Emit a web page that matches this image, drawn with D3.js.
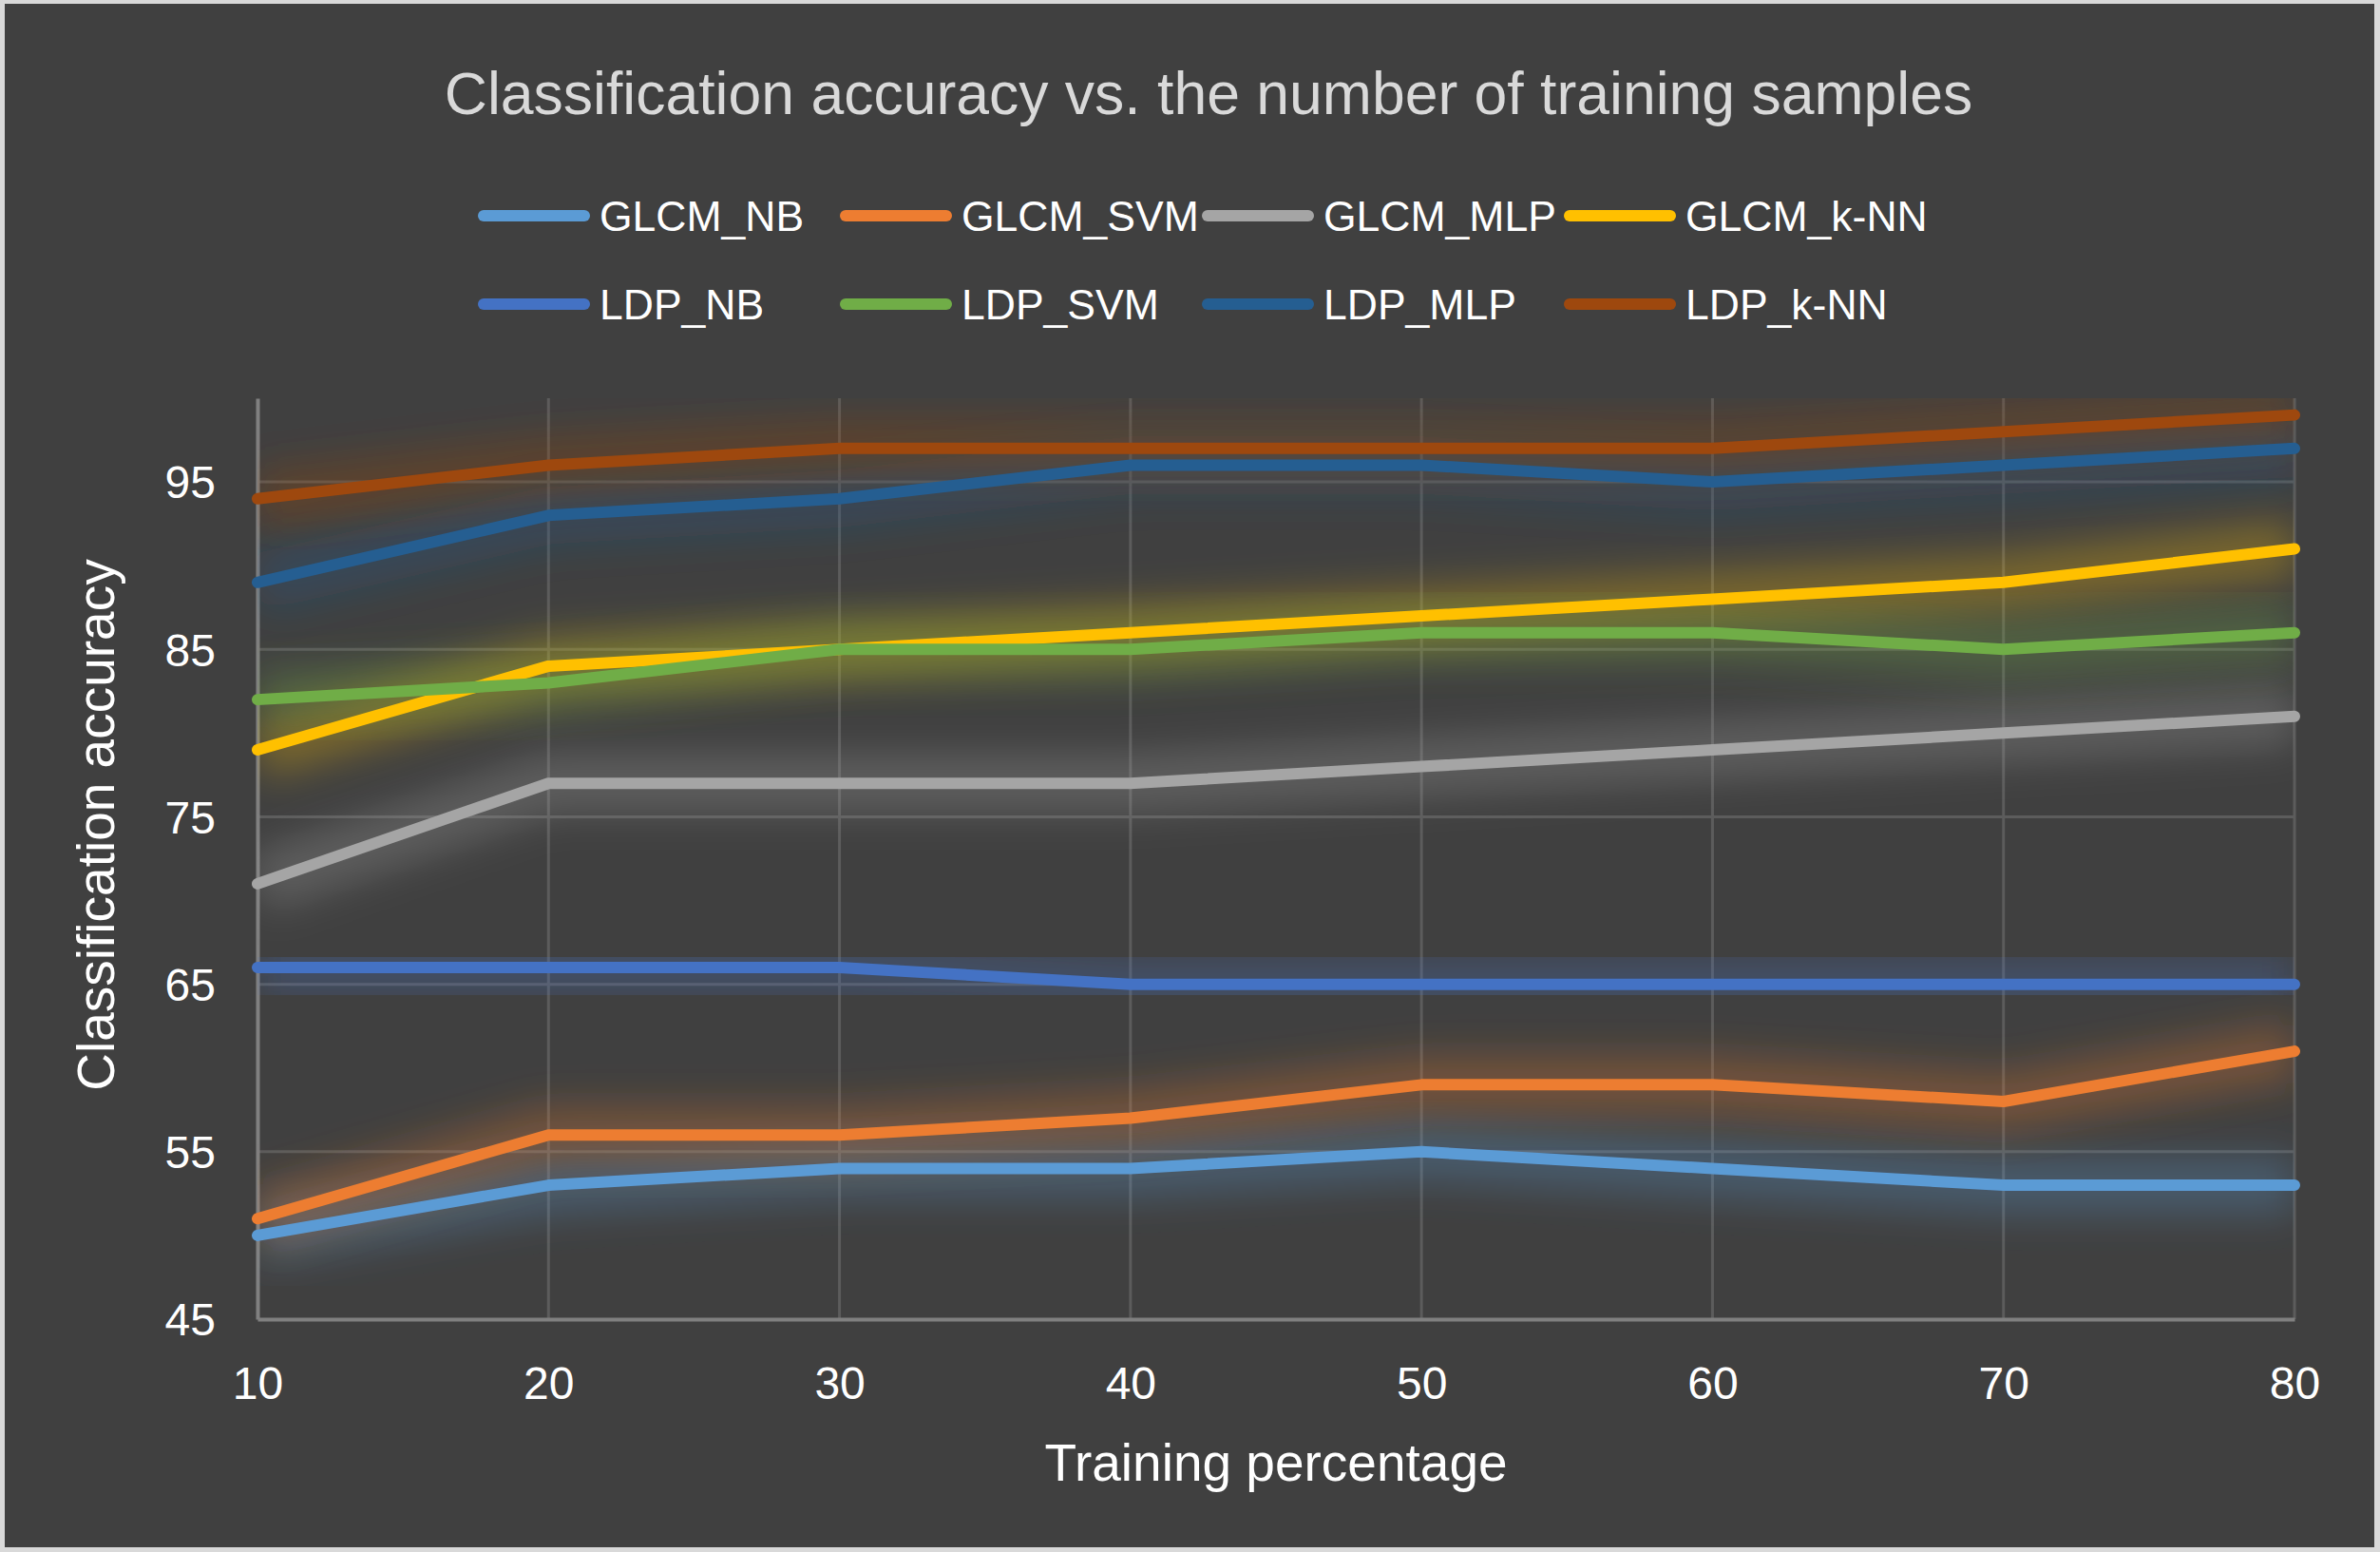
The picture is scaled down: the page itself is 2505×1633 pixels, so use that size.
<!DOCTYPE html>
<html>
<head>
<meta charset="utf-8">
<script src="https://cdn.jsdelivr.net/npm/d3@7"></script>
<style>
  html, body { margin: 0; padding: 0; background: #d9d9d9; }
  svg { display: block; font-family: "Liberation Sans", Arial, sans-serif; }
</style>
</head>
<body>
<div id="chart"></div>
<script>
// data
var trainingPct = [10, 20, 30, 40, 50, 60, 70, 80];
var glcmNB  = [50, 53, 54, 54, 55, 54, 53, 53];
var glcmSVM = [51, 56, 56, 57, 59, 59, 58, 61];
var glcmMLP = [71, 77, 77, 77, 78, 79, 80, 81];
var glcmKNN = [79, 84, 85, 86, 87, 88, 89, 91];
var ldpNB   = [66, 66, 66, 65, 65, 65, 65, 65];
var ldpSVM  = [82, 83, 85, 85, 86, 86, 85, 86];
var ldpMLP  = [89, 93, 94, 96, 96, 95, 96, 97];
var ldpKNN  = [94, 96, 97, 97, 97, 97, 98, 99];

var seriesNames = ["GLCM_NB", "GLCM_SVM", "GLCM_MLP", "GLCM_k-NN",
                   "LDP_NB", "LDP_SVM", "LDP_MLP", "LDP_k-NN"];
var seriesValues = [glcmNB, glcmSVM, glcmMLP, glcmKNN, ldpNB, ldpSVM, ldpMLP, ldpKNN];
var seriesColors = ["#5B9BD5", "#ED7D31", "#A5A5A5", "#FFC000",
                    "#4472C4", "#70AD47", "#255E91", "#9E480E"];
var yTicks = [45, 55, 65, 75, 85, 95];

var W = 2505, H = 1633;
var plot = {left: 271, right: 2415, top: 419, bottom: 1388};

var svg = d3.select("#chart").append("svg")
    .attr("width", W)
    .attr("height", H);

// frame
svg.append("rect")
    .attr("x", 0).attr("y", 0).attr("width", W).attr("height", H)
    .attr("fill", "#d9d9d9");
svg.append("rect")
    .attr("x", 5).attr("y", 4).attr("width", W - 11).attr("height", H - 9)
    .attr("fill", "#404040");

var defs = svg.append("defs");
defs.append("clipPath").attr("id", "plotClip")
    .append("rect")
    .attr("x", plot.left).attr("y", plot.top)
    .attr("width", plot.right - plot.left)
    .attr("height", plot.bottom - plot.top);
defs.append("filter").attr("id", "glow")
    .attr("x", "-20%").attr("y", "-60%").attr("width", "140%").attr("height", "220%")
    .append("feGaussianBlur").attr("stdDeviation", 20);

var x = d3.scaleLinear().domain([10, 80]).range([plot.left, plot.right]);
var y = d3.scaleLinear().domain([45, 100]).range([plot.bottom, plot.top]);

// gridlines
var grid = svg.append("g").attr("class", "grid");
grid.selectAll("line.h").data(yTicks.slice(1)).enter().append("line")
    .attr("x1", plot.left).attr("x2", plot.right)
    .attr("y1", function (d) { return y(d); })
    .attr("y2", function (d) { return y(d); })
    .attr("stroke", "#5c5c5c").attr("stroke-width", 3);
grid.selectAll("line.v").data(trainingPct.slice(1)).enter().append("line")
    .attr("y1", plot.top).attr("y2", plot.bottom)
    .attr("x1", function (d) { return x(d); })
    .attr("x2", function (d) { return x(d); })
    .attr("stroke", "#5c5c5c").attr("stroke-width", 3);

// axes
var xAxis = d3.axisBottom(x).tickValues(trainingPct).tickSize(0).tickPadding(50);
var yAxis = d3.axisLeft(y).tickValues(yTicks).tickSize(0).tickPadding(44);

var gx = svg.append("g")
    .attr("transform", "translate(0," + plot.bottom + ")")
    .call(xAxis);
var gy = svg.append("g")
    .attr("transform", "translate(" + plot.left + ",0)")
    .call(yAxis);
[gx, gy].forEach(function (g) {
    g.select(".domain").attr("stroke", "#808080").attr("stroke-width", 4);
    g.selectAll("text").attr("fill", "#ffffff").attr("font-size", 48)
        .attr("font-family", "'Liberation Sans', Arial, sans-serif");
});
gy.selectAll("text").attr("dy", "0.35em");
gx.selectAll("text").attr("dy", "0.71em");

// series
var lineFunc = d3.line()
    .x(function (d, i) { return x(trainingPct[i]); })
    .y(function (d) { return y(d); });

var lines = svg.append("g").attr("class", "lines");
seriesValues.forEach(function (vals, k) {
    lines.append("path")
        .attr("d", lineFunc(vals))
        .attr("fill", "none")
        .attr("stroke", seriesColors[k])
        .attr("stroke-width", 60)
        .attr("stroke-opacity", 0.3)
        .attr("stroke-linejoin", "round")
        .attr("clip-path", "url(#plotClip)")
        .attr("filter", "url(#glow)");
});
seriesValues.forEach(function (vals, k) {
    lines.append("path")
        .attr("d", lineFunc(vals))
        .attr("fill", "none")
        .attr("stroke", seriesColors[k])
        .attr("stroke-width", 12)
        .attr("stroke-linejoin", "round")
        .attr("stroke-linecap", "round");
});

// title
svg.append("text")
    .attr("x", 1272).attr("y", 120)
    .attr("text-anchor", "middle")
    .attr("fill", "#d9d9d9")
    .attr("font-size", 62.5)
    .text("Classification accuracy vs. the number of training samples");

// axis titles
svg.append("text")
    .attr("x", (plot.left + plot.right) / 2).attr("y", 1558)
    .attr("text-anchor", "middle")
    .attr("fill", "#ffffff")
    .attr("font-size", 55)
    .text("Training percentage");
svg.append("text")
    .attr("transform", "translate(120,868) rotate(-90)")
    .attr("text-anchor", "middle")
    .attr("fill", "#ffffff")
    .attr("font-size", 55)
    .text("Classification accuracy");

// legend, two rows of four
var legend = svg.append("g").attr("class", "legend");
seriesNames.forEach(function (name, k) {
    var col = k % 4, row = Math.floor(k / 4);
    var lx = 503 + col * 381, ly = 227 + row * 93;
    legend.append("line")
        .attr("x1", lx + 6).attr("x2", lx + 112)
        .attr("y1", ly).attr("y2", ly)
        .attr("stroke", seriesColors[k])
        .attr("stroke-width", 12)
        .attr("stroke-linecap", "round");
    legend.append("text")
        .attr("x", lx + 128).attr("y", ly + 16)
        .attr("fill", "#ffffff")
        .attr("font-size", 44.5)
        .text(name);
});
</script>
</body>
</html>
